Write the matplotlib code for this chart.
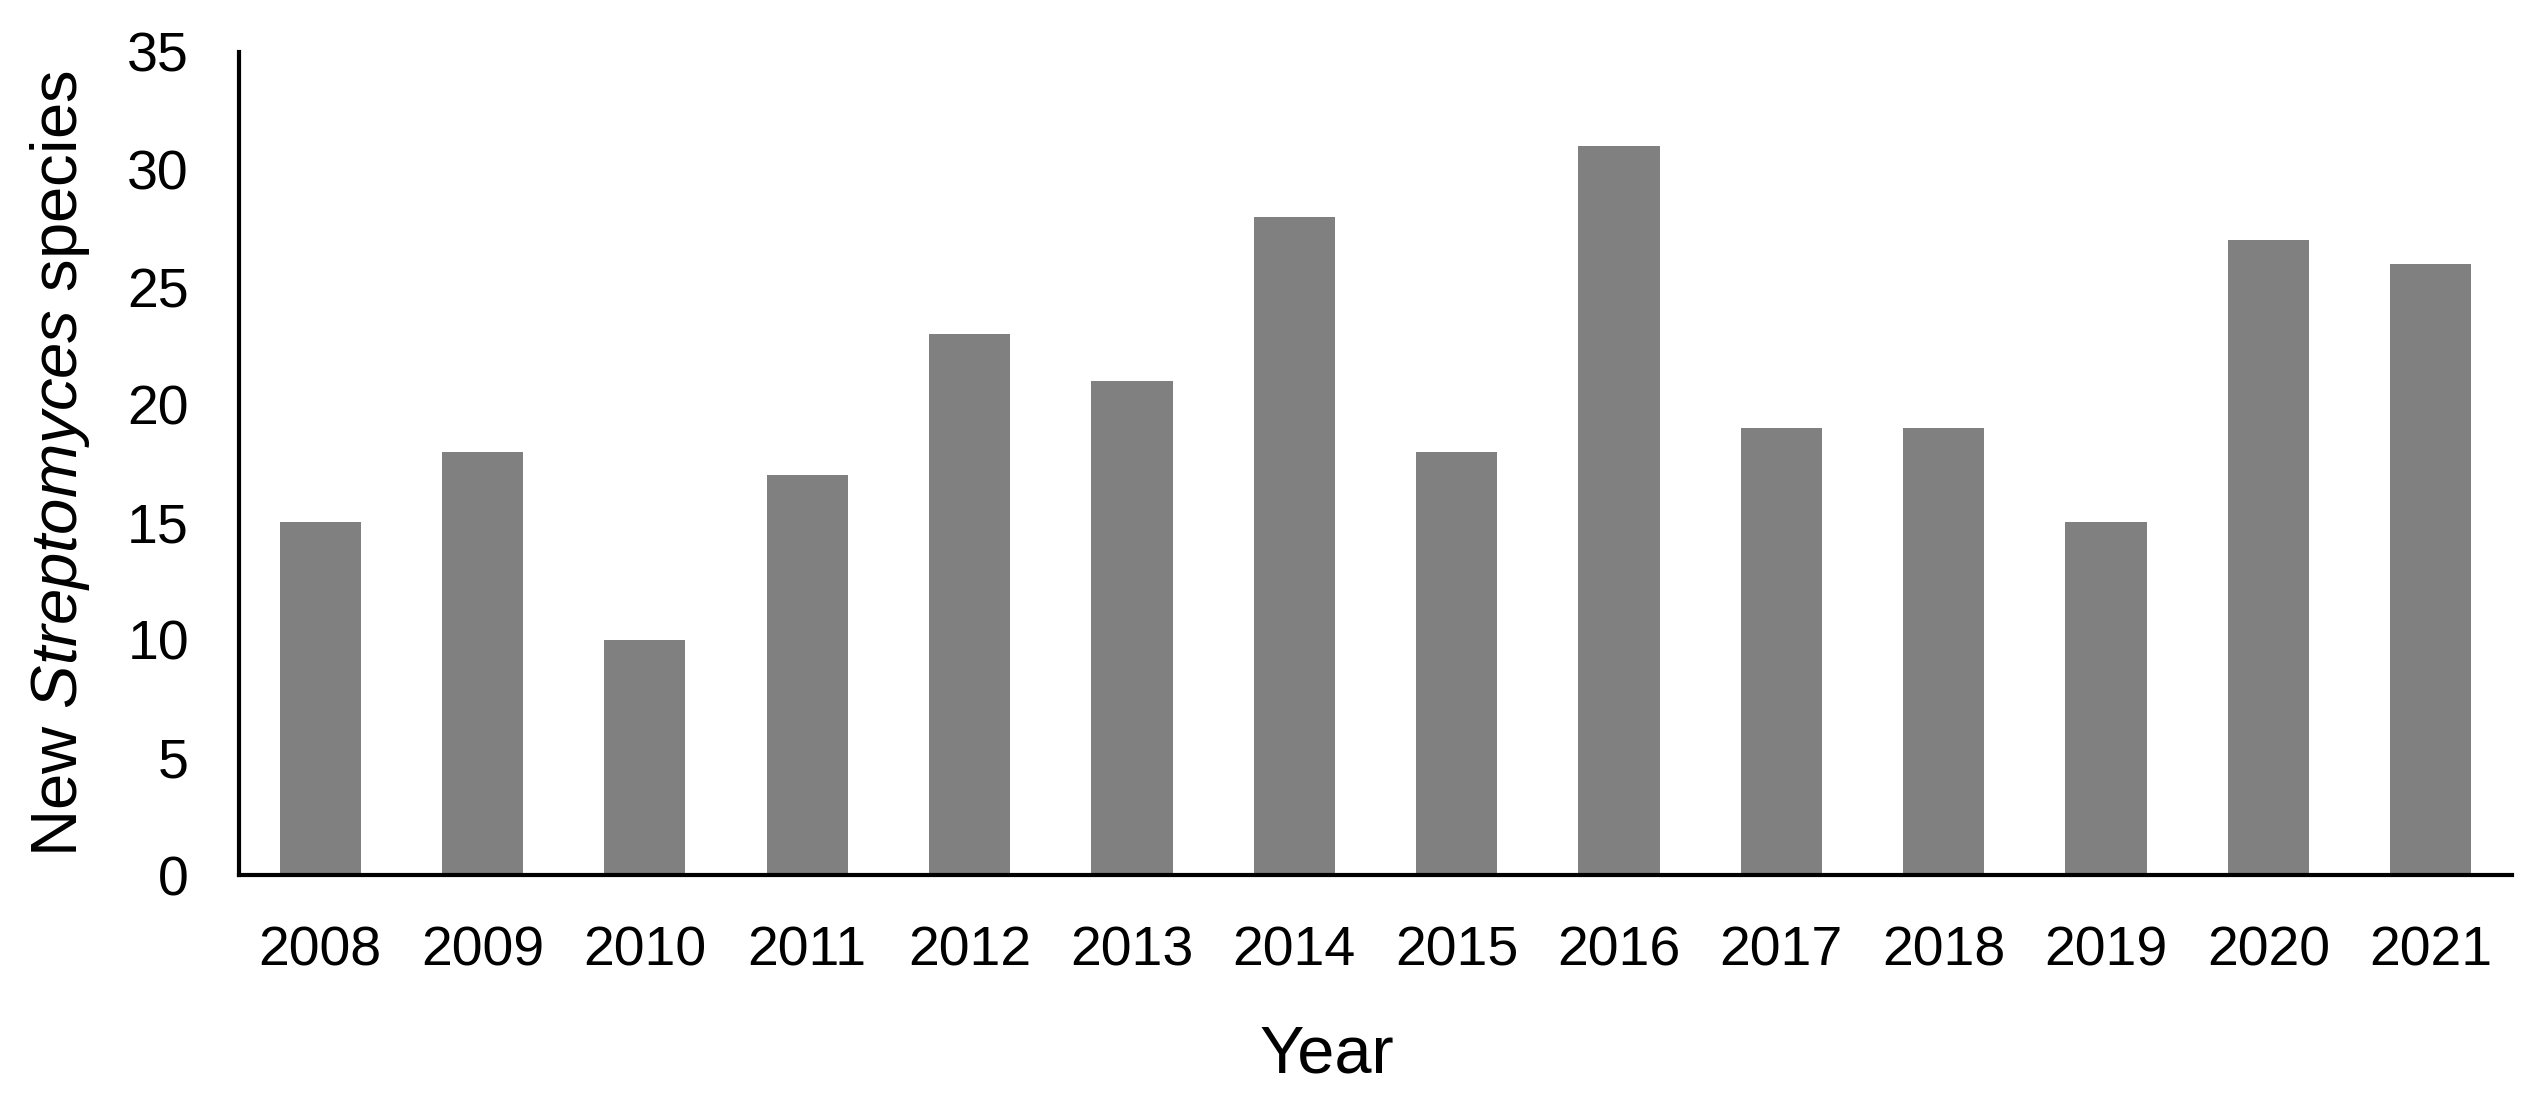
import matplotlib
matplotlib.use('Agg')
import matplotlib.pyplot as plt
import numpy as np

years = ['2008', '2009', '2010', '2011', '2012', '2013', '2014',
         '2015', '2016', '2017', '2018', '2019', '2020', '2021']
new_species = [15, 18, 10, 17, 23, 21, 28, 18, 31, 19, 19, 15, 27, 26]
y_ticks = [0, 5, 10, 15, 20, 25, 30, 35]

plt.rcParams['font.family'] = ['Liberation Sans', 'DejaVu Sans']
plt.rcParams['mathtext.fontset'] = 'custom'
plt.rcParams['mathtext.rm'] = 'Liberation Sans'
plt.rcParams['mathtext.it'] = 'Liberation Sans:italic'

fig = plt.figure(figsize=(25.34, 11.10), dpi=100)
ax = fig.add_axes([0.0943, 0.2117, 0.8970, 0.7415])

x = np.arange(len(years))
ax.bar(x, new_species, width=0.5, color='#808080', zorder=2)

ax.set_xlim(-0.5, len(years) - 0.5)
ax.set_ylim(0, 35)
ax.set_xticks(x)
ax.set_xticklabels(years)
ax.set_yticks(y_ticks)

for side in ['top', 'right']:
    ax.spines[side].set_visible(False)
for side in ['left', 'bottom']:
    ax.spines[side].set_linewidth(3)

ax.tick_params(axis='both', length=0, labelsize=40)
ax.tick_params(axis='x', pad=36)
ax.tick_params(axis='y', pad=36)

ax.set_ylabel(r'New $\it{Streptomyces}$ species', fontsize=47)
ax.yaxis.set_label_coords(-0.0645, 0.5)
ax.set_xlabel('Year', fontsize=48)
ax.xaxis.set_label_coords(0.4787, -0.182)

fig.savefig('out.png', dpi=100)
